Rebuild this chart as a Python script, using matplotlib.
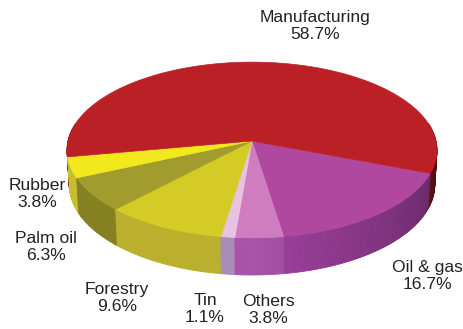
import numpy as np
import matplotlib.pyplot as plt
from matplotlib.patches import Polygon

# sectors in clockwise order, starting at the right-hand edge of the pie
sectors = ["Oil & gas", "Others", "Tin", "Forestry", "Palm oil", "Rubber", "Manufacturing"]
shares = [16.7, 3.8, 1.1, 9.6, 6.3, 3.8, 58.7]

top_colors = ["#B0489F", "#D07DC0", "#E8C2E2", "#D5CB25", "#A29C2E", "#F2E81E", "#BB2026"]
side_colors = ["#A040A0", "#A852AA", "#AA8CBA", "#BAB02E", "#858020", "#C6BE30", "#8A1A1C"]

# label anchor (centre of the two-line text) for each sector
label_pos = {
    "Manufacturing": (315, 26),
    "Oil & gas": (427, 276),
    "Others": (268, 310),
    "Tin": (205, 309),
    "Forestry": (117, 298),
    "Palm oil": (46, 247),
    "Rubber": (37, 194),
}

plt.rcParams['font.family'] = ['Liberation Sans', 'DejaVu Sans']

W, H = 464, 329
fig = plt.figure(figsize=(W / 100, H / 100), dpi=100)
ax = fig.add_axes([0, 0, 1, 1])
ax.set_xlim(0, W)
ax.set_ylim(H, 0)
ax.axis("off")

# perspective camera looking down on a flat cylinder
R = 0.116          # pie radius (camera distance = 1)
thick = 0.025      # slab thickness
elev = np.radians(28.2)
focal = 1586
ox, oy = 252, 141  # screen position of the pie centre
start = -21.0


def project(phi, y=0.0):
    phi = np.radians(phi)
    X = R * np.cos(phi)
    Z = -R * np.sin(phi)   # towards the viewer
    s = 1 - y * np.sin(elev) - Z * np.cos(elev)
    sx = focal * X / s
    sy = focal * (y * np.cos(elev) - Z * np.sin(elev)) / s
    return ox + sx, oy - sy


def shade(t):
    t = (t + 180) % 360 - 180
    if t < -90:
        return 1.0
    return max(0.55, 1.0 - 0.45 * (t + 90) / 90)


def scale(color, f):
    r, g, bb = [int(color[i:i + 2], 16) / 255 for i in (1, 3, 5)]
    return (r * f, g * f, bb * f)


bounds = start - np.concatenate([[0], np.cumsum(shares)]) * 3.6

# side strips, drawn back to front
strips = []
for i in range(len(sectors)):
    t0, t1 = bounds[i], bounds[i + 1]
    n = max(2, int(abs(t0 - t1)) + 1)
    ts = np.linspace(t0, t1, n + 1)
    for j in range(n):
        ta, tb = ts[j], ts[j + 1]
        mid = np.radians((ta + tb) / 2)
        if np.sin(mid) > 0.2:
            continue
        seg = np.linspace(ta, tb, 4)
        xt, yt = project(seg)
        xb, yb = project(seg, -thick)
        pts = list(zip(xt, yt)) + list(zip(xb[::-1], yb[::-1]))
        col = scale(side_colors[i], shade((ta + tb) / 2))
        strips.append((-np.sin(mid), pts, col))

for _, pts, col in sorted(strips, key=lambda s: s[0]):
    ax.add_patch(Polygon(pts, closed=True, facecolor=col, edgecolor=col, lw=0.6))

# top face
for i in range(len(sectors)):
    t0, t1 = bounds[i], bounds[i + 1]
    seg = np.linspace(t0, t1, max(3, int(abs(t0 - t1) * 2)))
    xs, ys = project(seg)
    pts = [(ox, oy)] + list(zip(xs, ys))
    ax.add_patch(Polygon(pts, closed=True, facecolor=top_colors[i],
                         edgecolor=top_colors[i], lw=0.5))

for name, val in zip(sectors, shares):
    x, y = label_pos[name]
    ax.text(x, y, f"{name}\n{val}%", ha="center", va="center",
            fontsize=12.6, color="#222222", linespacing=1.15)

plt.savefig("out.png", dpi=100)
